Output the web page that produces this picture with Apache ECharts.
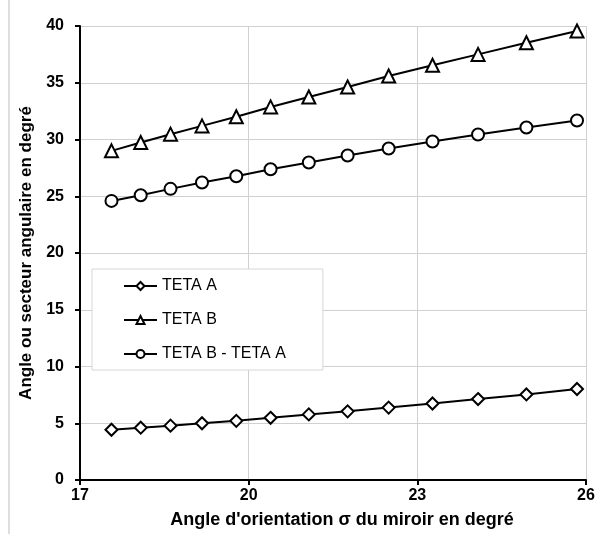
<!DOCTYPE html>
<html>
<head>
<meta charset="utf-8">
<script src="https://cdn.jsdelivr.net/npm/echarts@6/dist/echarts.min.js"></script>
<style>
  html, body { margin: 0; padding: 0; background: #fff; }
  #chart { width: 610px; height: 534px; }
</style>
</head>
<body>
<div id="chart"></div>
<script>
// angle d'orientation sigma du miroir (degrés)
const sigma = [17.56, 18.08, 18.61, 19.17, 19.78, 20.39, 21.07, 21.76, 22.49, 23.27, 24.08, 24.94, 25.84];
const tetaA = [4.43, 4.61, 4.79, 5.0, 5.21, 5.48, 5.78, 6.05, 6.38, 6.74, 7.13, 7.54, 8.02];
const tetaB = [29.0, 29.74, 30.47, 31.2, 32.0, 32.87, 33.75, 34.63, 35.6, 36.54, 37.5, 38.53, 39.56];
const tetaDiff = [24.59, 25.09, 25.65, 26.21, 26.76, 27.38, 27.97, 28.59, 29.21, 29.82, 30.44, 31.06, 31.68];

const seriesNames = ["TETA A", "TETA B", "TETA B - TETA A"];
const seriesSymbols = ["diamond", "triangle", "circle"];
const seriesValues = [tetaA, tetaB, tetaDiff];

const chart = echarts.init(document.getElementById("chart"));

const font = "Liberation Sans, Arial, sans-serif";

const series = seriesValues.map((vals, i) => {
  return {
    name: seriesNames[i],
    type: "line",
    data: sigma.map((x, k) => [x, vals[k]]),
    symbol: seriesSymbols[i],
    symbolSize: i === 1 ? 13 : 12,
    showAllSymbol: true,
    lineStyle: { color: "#000", width: 2 },
    itemStyle: { color: "#fff", borderColor: "#000", borderWidth: 2 },
    emphasis: { disabled: true },
    z: 3,
  };
});

const option = {
  animation: false,
  backgroundColor: "#fff",
  grid: { left: 80, right: 24, top: 26, bottom: 53 },
  xAxis: {
    type: "value",
    min: 17,
    max: 26,
    interval: 3,
    name: "Angle d'orientation σ du miroir en degré",
    nameLocation: "middle",
    nameGap: 31,
    nameTextStyle: { fontFamily: font, fontWeight: "bold", fontSize: 18, color: "#000", padding: [0, 0, 0, 18] },
    axisLine: { lineStyle: { color: "#000", width: 2 } },
    axisTick: { show: true, length: 5, lineStyle: { color: "#000", width: 2 } },
    axisLabel: { fontFamily: font, fontWeight: "bold", fontSize: 16, color: "#000", margin: 8 },
    splitLine: { show: true, lineStyle: { color: "#d0d0d0", width: 1 } },
  },
  yAxis: {
    type: "value",
    min: 0,
    max: 40,
    interval: 5,
    name: "Angle ou secteur angulaire en degré",
    nameLocation: "middle",
    nameRotate: 90,
    nameGap: 44,
    nameTextStyle: { fontFamily: font, fontWeight: "bold", fontSize: 17, color: "#000" },
    axisLine: { show: true, lineStyle: { color: "#000", width: 2 } },
    axisTick: { show: true, length: 5, lineStyle: { color: "#000", width: 2 } },
    axisLabel: { fontFamily: font, fontWeight: "bold", fontSize: 16, color: "#000", margin: 16 },
    splitLine: { show: true, lineStyle: { color: "#d0d0d0", width: 1 } },
  },
  legend: {
    data: seriesNames,
    orient: "vertical",
    left: 92,
    top: 269,
    itemWidth: 33,
    itemHeight: 10,
    itemGap: 18,
    padding: [9, 37, 8, 31],
    backgroundColor: "#fff",
    borderColor: "#d6d6d6",
    borderWidth: 1,
    textStyle: { fontFamily: font, fontSize: 16, color: "#000" },
  },
  graphic: [
    {
      type: "line",
      shape: { x1: 9, y1: 0, x2: 9, y2: 534 },
      style: { stroke: "#bdbdbd", lineWidth: 1 },
    },
  ],
  series: series,
};

chart.setOption(option);
</script>
</body>
</html>
